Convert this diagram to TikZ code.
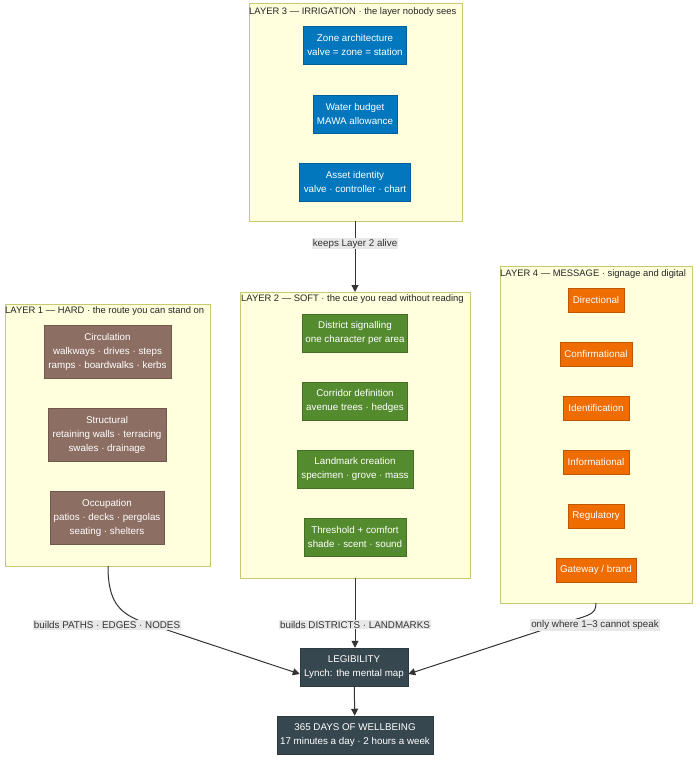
\documentclass[tikz,border=0pt]{standalone}
\usepackage{fontspec}
\setmainfont{Liberation Sans}
\usetikzlibrary{arrows.meta}
\definecolor{clfill}{HTML}{FFFFDE}
\definecolor{clline}{HTML}{C8C86E}
\definecolor{cblue}{HTML}{0277BD}
\definecolor{cgreen}{HTML}{558B2F}
\definecolor{cbrown}{HTML}{8D6E63}
\definecolor{corange}{HTML}{EF6C00}
\definecolor{cdark}{HTML}{37474F}
\definecolor{edge}{HTML}{333333}
\definecolor{lbl}{HTML}{E8E8E8}
\begin{document}
\begin{tikzpicture}[x=1pt,y=-1pt,font=\fontsize{9.8}{12}\selectfont,
 cl/.style={draw=clline,fill=clfill,line width=0.8pt},
 ttl/.style={anchor=west,inner sep=0pt,text=black!85,font=\fontsize{9.4}{12}\selectfont},
 nd/.style={draw=#1!80!black,fill=#1,text=white,align=center,inner sep=0pt,line width=0.5pt,minimum height=38},
 sm/.style={nd=corange,minimum height=24},
 ar/.style={draw=edge,line width=1pt,-{Triangle[length=7pt,width=7pt]}},
 el/.style={fill=lbl,inner sep=1pt,text=black!80}]
\useasboundingbox (0,0) rectangle (697,760);
% clusters
\draw[cl] (249,3) rectangle (462,221); \node[ttl] at (249,12) {LAYER 3 — IRRIGATION · the layer nobody sees};
\draw[cl] (240,292) rectangle (470,578); \node[ttl] at (241,299) {LAYER 2 — SOFT · the cue you read without reading};
\draw[cl] (5,304) rectangle (210,566); \node[ttl] at (5,311) {LAYER 1 — HARD · the route you can stand on};
\draw[cl] (500,266) rectangle (692,603); \node[ttl] at (500,274) {LAYER 4 — MESSAGE · signage and digital};
% layer 3
\node[nd=cblue,minimum width=103] (za) at (355,45) {Zone architecture\\[2pt]valve = zone = station};
\node[nd=cblue,minimum width=84] (wb) at (355,114) {Water budget\\[2pt]MAWA allowance};
\node[nd=cblue,minimum width=111] (ai) at (355,182) {Asset identity\\[2pt]valve · controller · chart};
% layer 2
\node[nd=cgreen,minimum width=105] (ds) at (355,333) {District signalling\\[2pt]one character per area};
\node[nd=cgreen,minimum width=105] (cd) at (355,401) {Corridor definition\\[2pt]avenue trees · hedges};
\node[nd=cgreen,minimum width=116] (lc) at (355,469) {Landmark creation\\[2pt]specimen · grove · mass};
\node[nd=cgreen,minimum width=102] (tc) at (355,537) {Threshold + comfort\\[2pt]shade · scent · sound};
% layer 1
\node[nd=cbrown,minimum width=127,minimum height=53] (ci) at (107.5,351.5) {Circulation\\[2pt]walkways · drives · steps\\[2pt]ramps · boardwalks · kerbs};
\node[nd=cbrown,minimum width=118,minimum height=53] (st) at (107,434.5) {Structural\\[2pt]retaining walls · terracing\\[2pt]swales · drainage};
\node[nd=cbrown,minimum width=114,minimum height=53] (oc) at (107,517.5) {Occupation\\[2pt]patios · decks · pergolas\\[2pt]seating · shelters};
% layer 4
\node[sm,minimum width=56] (d1) at (596,300) {Directional};
\node[sm,minimum width=72] (d2) at (596,354) {Confirmational};
\node[sm,minimum width=66] (d3) at (596,408) {Identification};
\node[sm,minimum width=66] (d4) at (596,462) {Informational};
\node[sm,minimum width=56] (d5) at (596,516) {Regulatory};
\node[sm,minimum width=80] (d6) at (596,570) {Gateway / brand};
% bottom
\node[nd=cdark,minimum width=108] (leg) at (354,667) {LEGIBILITY\\[2pt]Lynch: the mental map};
\node[nd=cdark,minimum width=156] (wel) at (355,735) {365 DAYS OF WELLBEING\\[2pt]17 minutes a day · 2 hours a week};
% anchors
\coordinate (l3b) at (355,221); \coordinate (l2t) at (355,292);
\coordinate (l2b) at (355,578); \coordinate (l1b) at (108,566); \coordinate (l4b) at (596,603);
\coordinate (m1) at (140,621); \coordinate (m4) at (570,621);
% edges
\draw[ar] (l3b) -- node[el,pos=0.32]{keeps Layer 2 alive} (l2t);
\draw[ar] (l2b) -- node[el,pos=0.67]{builds DISTRICTS · LANDMARKS} (l2b |- leg.north);
\draw[ar] (l1b) .. controls (108,600) and (118,612) .. (m1) -- ([yshift=-7]leg.west);
\draw[ar] (l4b) .. controls (596,614) and (590,615) .. (m4) -- ([yshift=-7]leg.east);
\node[el] (e1) at (107,625) {builds PATHS · EDGES · NODES};
\node[el] (e4) at (595,625) {only where 1–3 cannot speak};
\draw[ar] (leg) -- (wel);
\end{tikzpicture}
\end{document}
